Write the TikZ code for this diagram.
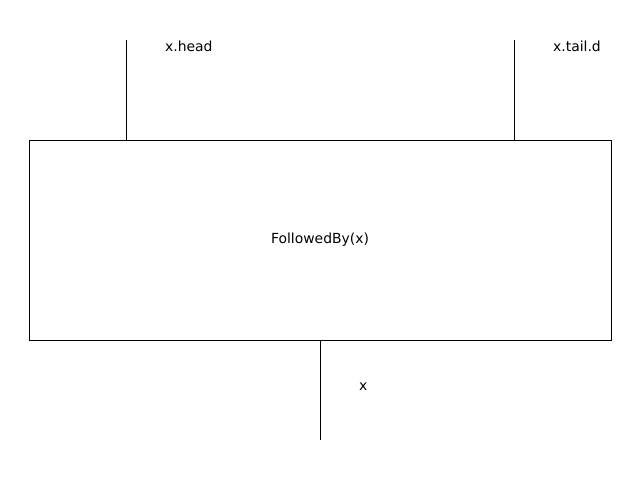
\documentclass[tikz,border=0pt]{standalone}
\usepackage{fontspec}
\setmainfont{DejaVu Sans}
\begin{document}
\begin{tikzpicture}[x=1pt,y=-1pt,
  lbl/.style={anchor=west,inner sep=0pt,font=\fontsize{13.9}{16}\selectfont},
  wire/.style={draw=black,line width=0.9pt},
  boxst/.style={draw=black,line width=0.9pt,minimum width=582pt,minimum height=200pt,inner sep=0pt,font=\fontsize{13.9}{16}\selectfont}]
\useasboundingbox (0,0) rectangle (640,480);
\node[boxst] (box) at (320,240) {FollowedBy(x)};
\coordinate (t1) at (126,40);
\coordinate (t2) at (514,40);
\coordinate (b1) at (320,440);
\draw[wire] (t1) -- (t1 |- box.north);
\draw[wire] (t2) -- (t2 |- box.north);
\draw[wire] (box.south) -- (b1);
\node[lbl] (l1) at (165,46) {x.head};
\node[lbl] (l2) at (553,46) {x.tail.d};
\node[lbl] (l3) at (359,387) {x};
\end{tikzpicture}
\end{document}
